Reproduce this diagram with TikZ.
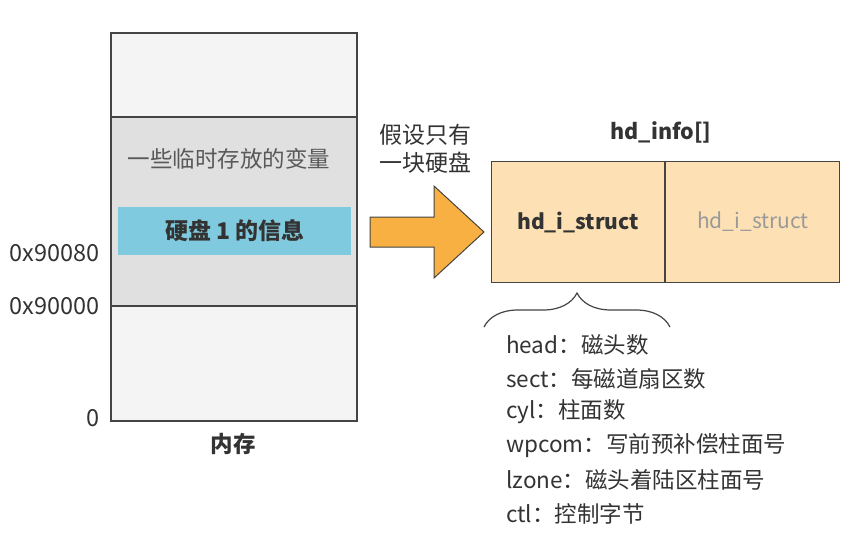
\documentclass[tikz,border=0pt]{standalone}
\usepackage{fontspec}
\setmainfont{Noto Sans CJK SC}
\usetikzlibrary{decorations.pathreplacing}

\definecolor{memlight}{HTML}{F4F4F4}
\definecolor{memgray}{HTML}{E0E0E0}
\definecolor{diskblue}{HTML}{7FCADF}
\definecolor{structpeach}{HTML}{FDE1B5}
\definecolor{arroworange}{HTML}{F9B042}
\definecolor{edgegray}{HTML}{444444}
\definecolor{txtdark}{HTML}{333333}

\tikzset{
  cell/.style={draw=edgegray,line width=1.2pt},
  lbl/.style={text=txtdark,inner sep=0pt},
  addr/.style={lbl,anchor=east,font=\fontsize{23.5}{28}\selectfont},
  field/.style={lbl,anchor=west},
}

\begin{document}
\begin{tikzpicture}[x=1pt,y=-1pt,font=\fontsize{22.5}{27}\selectfont]
  \useasboundingbox (0,0) rectangle (849,539);

  % ================= 内存 (左) =================
  \draw[cell,fill=memlight] (111,33) rectangle (357,421);
  \draw[cell,fill=memgray] (111,117) rectangle (357,306);
  \fill[diskblue] (118,207) rectangle (351,255);
  \node[lbl,text=black!65] (tmpvar) at (229,159) {一些临时存放的变量};
  \node[lbl,font=\fontsize{23}{27}\selectfont\bfseries] (diskinfo) at (235,231) {硬盘 1 的信息};

  % 地址标注
  \node[addr] (a90080) at (100,253) {0x90080};
  \node[addr] (a90000) at (100,306) {0x90000};
  \node[addr] (azero) at (100,418) {0};
  \node[lbl,font=\fontsize{22.5}{27}\selectfont\bfseries] (mem) at (233,444) {内存};

  % ================= 箭头 =================
  \draw[edgegray,line width=1pt,fill=arroworange]
    (370,217) -- (434,217) -- (434,186) -- (484,232) -- (434,278) -- (434,247) -- (370,247) -- cycle;
  \node[lbl,align=center,font=\fontsize{23}{28}\selectfont] (assume) at (425,149) {假设只有\\一块硬盘};

  % ================= hd_info[] (右) =================
  \node[cell,fill=structpeach,minimum width=173pt,minimum height=121pt,anchor=north west,
    font=\fontsize{21}{25}\selectfont\bfseries,text=txtdark] (s0) at (491,161) {hd\_i\_struct};
  \node[cell,fill=structpeach,minimum width=174pt,minimum height=121pt,anchor=north west,
    font=\fontsize{21}{25}\selectfont,text=black!40] (s1) at (s0.north east) {hd\_i\_struct};
  \node[lbl,font=\fontsize{21.5}{26}\selectfont\bfseries] (hdinfo) at (661,132) {hd\_info[]};

  % 结构体字段
  \draw[edgegray,line width=1.2pt,decorate,decoration={brace,amplitude=34pt}]
    (484,327) -- (670,327);
  \node[field] (fhead) at (506,345) {head：磁头数};
  \node[field] (fsect) at (506,379) {sect：每磁道扇区数};
  \node[field] (fcyl) at (506,412) {cyl：柱面数};
  \node[field] (fwp) at (506,446) {wpcom：写前预补偿柱面号};
  \node[field] (flz) at (506,480) {lzone：磁头着陆区柱面号};
  \node[field] (fctl) at (506,514) {ctl：控制字节};
\end{tikzpicture}
\end{document}
